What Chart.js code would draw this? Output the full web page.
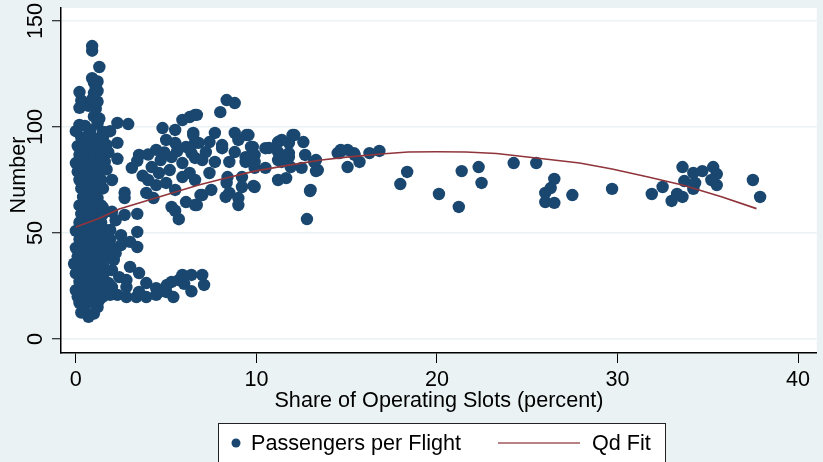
<!DOCTYPE html>
<html>
<head>
<meta charset="utf-8">
<script src="https://cdn.jsdelivr.net/npm/chart.js@4"></script>
<style>
  html, body { margin: 0; padding: 0; background: #EAF2F3; }
  canvas { display: block; }
</style>
</head>
<body>
<canvas id="chart" width="823" height="462"></canvas>
<script>
/* Passengers per flight vs. share of operating slots, with quadratic fit */
const FONT = "'Liberation Sans', Arial, sans-serif";
const NAVY = '#1A476F';
const MAROON = '#90353B';

const xTicks = [0, 10, 20, 30, 40];
const yTicks = [0, 50, 100, 150];

// carriers with a tiny slot share (dense column near zero)
const smallShare = [
    [0.7,10.5],[0.3,12.5],[1.0,12],[1.2,15],[0.5,15.5],[0.2,17],[0.9,17.5],[1.3,18.5],[0.1,20],[0.6,20],[1.5,20],[1.1,21],
    [0.0,23],[0.4,23.5],[0.8,22.5],[1.2,23],[1.6,23.5],
    [0.2,27],[0.6,26.5],[1.0,27.5],[1.4,27],[1.8,26.5],
    [0.0,31],[0.4,31.5],[0.8,30.5],[1.2,31],[1.6,31.5],
    [-0.1,35.5],[0.3,35],[0.7,34.5],[1.1,35],[1.5,35.5],
    [0.1,39],[0.5,39.5],[0.9,38.5],[1.3,39],[1.7,39.5],
    [0.0,43],[0.4,43.5],[0.8,42.5],[1.2,43],[1.6,43.5],
    [0.2,47],[0.6,46.5],[1.0,47.5],[1.4,47],[1.8,46.5],
    [0.0,51],[0.4,51.5],[0.8,50.5],[1.2,51],[1.6,51.5],
    [0.2,55],[0.6,55.5],[1.0,54.5],[1.4,55],
    [0.3,59],[0.7,59.5],[1.1,58.5],[1.5,59],
    [0.2,63],[0.6,63.5],[1.0,62.5],[1.4,63],
    [0.4,67],[0.8,67.5],[1.2,66.5],
    [0.3,71],[0.7,71.5],[1.1,70.5],[1.5,71],
    [0.2,75],[0.6,75.5],[1.0,74.5],[1.4,75],
    [0.1,79],[0.5,79.5],[0.9,78.5],[1.3,79],
    [0.0,83],[0.4,83.5],[0.8,82.5],[1.2,83],[1.6,83.5],
    [0.2,87],[0.6,87.5],[1.0,86.5],[1.4,87],
    [0.1,91],[0.5,91.5],[0.9,90.5],[1.3,91],[1.7,91.5],
    [0.3,95],[0.7,95.5],[1.1,94.5],[1.5,95],
    [0.0,98],[0.8,98.5],[1.6,97.5],[1.9,98],
    [0.2,101],[0.5,100.5],[1.2,101.5],
    [1.0,105],[1.3,104],
    [0.2,109],[0.7,110],[1.1,108.5],
    [0.3,112.5],[0.9,113],[1.2,112],
    [0.2,116.5],[1.0,116],[1.2,117],
    [1.1,118.5],[1.0,121],[1.2,121.5],[0.9,123],
    [1.3,128.3],[0.9,136],[0.9,138.2]
];

// low-load band to the right of the column
const lowBand = [
    [1.9,51.4],[2.0,43],[2.5,49],[2.5,44.3],[3.0,45.8],[3.4,50.5],[3.4,43.4],[2.1,37.3],[2.0,32.5],[2.4,29.2],
    [2.8,27.8],[3.0,34],[3.5,31.1],[3.9,26.4],[2.0,24.5],[2.8,24.5],[2.3,20.8],[1.9,20.8],[2.8,19.8],[3.35,19.8],
    [3.5,22.2],[3.9,19.8],[4.45,20.8],[4.45,24],[4.6,22.2],[5.0,22.2],[5.05,25.5],[5.3,26.9],[5.4,19.8],[5.7,27.8],
    [5.9,30.2],[6.4,30.2],[7.0,30.2],[7.1,25.5],[6.4,22.5],[6.0,26],[2.2,40.5],[1.9,47]
];

// mid-sized carriers
const midShare = [
    [2.3,101.9],[2.9,101.4],[2.3,92.5],[2.3,85],[1.5,97.6],[1.8,88],[1.7,80],[2.0,75],[1.5,62],[2.7,69],
    [2.7,66.5],[2.7,58.5],[3.4,59],[3.5,86.8],[3.1,80.7],[3.7,77],[2.0,60],[2.2,56],
    [4.2,81.1],[4.45,89.2],[4.8,99.5],[5.0,93.9],[5.5,98.6],[5.9,103.3],[6.3,104.7],[6.7,105.7],[6.5,97.2],[5.5,92.5],
    [6.1,90.6],[6.8,92.5],[4.7,84.4],[5.3,85.8],[5.9,83],[6.6,85.4],[4.6,78.3],[5.2,79.7],[5.9,76.4],[6.6,75],
    [4.45,72.6],[5.0,73.6],[3.9,68.9],[4.3,66.5],[5.5,70.3],[6.1,64.6],[5.3,62.3],[6.7,63.2],[7.0,67.9],[5.5,60.5],
    [5.7,56.5],[3.4,84],[4.0,87],[4.9,88],[5.6,88.5],[4.0,75],
    [6.5,96.2],[7.7,97.2],[8.8,97.2],[9.45,96.2],[9.0,93.9],[8.1,91.5],[9.7,90.6],[10.7,90.1],[11.2,92.9],[12.0,96.2],
    [12.6,92.9],[11.8,92.5],[8.8,88.2],[9.4,85.8],[9.9,86.8],[10.5,90],[11.2,88.2],[11.8,85.8],[12.7,86.8],[13.3,84.4],
    [13.4,79.7],[12.5,80.7],[11.9,81.1],[11.2,84.4],[10.5,80.7],[9.9,80.7],[9.4,83.5],[8.5,83.5],[7.7,83.5],[7.0,84.4],
    [6.4,87.7],[7.2,88.2],[8.1,90],[7.4,92.9],[6.6,92.5],[6.3,78.3],[7.4,78.3],[8.4,76.4],[9.2,76.4],[9.9,71.7],
    [9.2,71.7],[11.2,75],[11.65,75.9],[13.0,70.3],[8.35,73.6],[8.5,68.9],[7.5,70.3],[6.9,67.9],[9.0,66.5],[6.6,63.2],
    [9.0,63.2],[8.3,67],[8.35,112.7],[8.8,111.3],[8.0,107],[6.6,105.7],
    [9.56,96.2],[9.8,90.6],[11.4,93.9],[12.1,96.2],[11.8,87.7],[13.2,83.5],[13.3,79.2],[11.4,83.5],[9.9,83.5],
    [12.8,56.6],[12.97,69.8],[9.84,72.2]
];

// carriers with a large slot share
const largeShare = [
    [14.5,87.7],[14.6,87.7],[15.05,89.2],[15.4,87.7],[14.67,89.2],[15.44,86.8],[15.05,81.1],[15.71,83.5],[16.26,87.7],[16.81,88.7],
    [17.97,73.1],[18.35,78.8],[20.11,68.4],[21.21,62.3],[21.37,79.2],[22.31,81.1],[22.47,73.6],[24.25,83],[25.5,83],[26.5,75.5],
    [26.0,68.9],[26.3,71.2],[26.0,64.6],[26.5,64.2],[27.5,67.9],[29.7,70.8],[31.9,68.4],[32.5,71.7],[33.0,65.1],[33.3,68.4],
    [33.6,81.1],[33.6,67.0],[33.7,74.5],[34.2,78.3],[34.3,73.6],[34.2,70.8],[34.7,79.2],[35.3,81.1],[35.5,77.8],[35.2,75.0],
    [35.5,72.6],[37.5,75.0],[37.9,67.0]
];

// quadratic fit
const fitX = [0, 1.3, 2.4, 4.6, 6.8, 8.1, 9.9, 11.8, 13.6, 15.0, 16.9, 18.4, 20.0, 21.6, 23.3, 25.5, 27.9, 29.7, 31.7, 33.6, 35.8, 37.7];
const fitY = [52.8, 57, 61.3, 67, 72.6, 75.5, 79.2, 82, 84.4, 85.8, 87.3, 88.2, 88.3, 88.2, 87.5, 85.4, 83, 80.2, 76.4, 72.6, 67, 61.5];

const points = [...smallShare, ...lowBand, ...midShare, ...largeShare].map(p => ({ x: p[0], y: p[1] }));
const fitPoints = fitX.map((x, i) => ({ x, y: fitY[i] }));

const stataLook = {
    id: 'stataLook',
    beforeDraw(chart) {
        const { ctx, chartArea: a } = chart;
        ctx.save();
        ctx.fillStyle = '#EAF2F3';
        ctx.fillRect(0, 0, chart.width, chart.height);
        ctx.fillStyle = '#fff';
        ctx.fillRect(a.left, a.top, a.right - a.left, a.bottom - a.top);
        ctx.restore();
    },
    afterDraw(chart) {
        const { ctx, chartArea: a, scales: { x, y } } = chart;
        ctx.save();
        ctx.fillStyle = '#000';
        ctx.font = '21.6px ' + FONT;
        ctx.textBaseline = 'middle';

        // x tick labels + title
        ctx.textAlign = 'center';
        xTicks.forEach(v => ctx.fillText(String(v), x.getPixelForValue(v), 380));
        ctx.fillText('Share of Operating Slots (percent)', (a.left + a.right) / 2, 401);

        // y tick labels + title, rotated
        yTicks.forEach(v => {
            ctx.save();
            ctx.translate(36, y.getPixelForValue(v));
            ctx.rotate(-Math.PI / 2);
            ctx.fillText(String(v), 0, 0);
            ctx.restore();
        });
        ctx.save();
        ctx.translate(19, 175);
        ctx.rotate(-Math.PI / 2);
        ctx.fillText('Number', 0, 0);
        ctx.restore();

        // legend box
        ctx.fillStyle = '#fff';
        ctx.fillRect(218, 423, 447, 50);
        ctx.strokeStyle = '#222';
        ctx.lineWidth = 1;
        ctx.strokeRect(218.5, 423.5, 447, 50);
        ctx.fillStyle = NAVY;
        ctx.beginPath();
        ctx.arc(236, 443, 4.5, 0, Math.PI * 2);
        ctx.fill();
        ctx.strokeStyle = '#A0585C';
        ctx.lineWidth = 1.6;
        ctx.beginPath();
        ctx.moveTo(498, 443);
        ctx.lineTo(580, 443);
        ctx.stroke();
        ctx.fillStyle = '#000';
        ctx.textAlign = 'left';
        ctx.fillText(chart.data.datasets[1].label, 251, 444);
        ctx.fillText(chart.data.datasets[0].label, 592, 444);
        ctx.restore();
    }
};

new Chart(document.getElementById('chart'), {
    type: 'scatter',
    data: {
        datasets: [
            { label: 'Qd Fit', type: 'line', data: fitPoints, borderColor: MAROON, borderWidth: 1.6,
              pointRadius: 0, tension: 0, fill: false, order: 0 },
            { label: 'Passengers per Flight', data: points, backgroundColor: NAVY, borderWidth: 0,
              pointRadius: 6.2, order: 1 }
        ]
    },
    options: {
        responsive: false,
        animation: false,
        layout: { padding: { top: 8, left: 0, right: 0, bottom: 0 } },
        plugins: { legend: { display: false }, tooltip: { enabled: false } },
        scales: {
            x: {
                type: 'linear', min: -0.824, max: 41.04,
                afterBuildTicks: s => { s.ticks = xTicks.map(v => ({ value: v })); },
                afterFit: s => { s.height = 109; },
                grid: { drawOnChartArea: false, tickLength: 10, tickColor: '#000', tickWidth: 1 },
                border: { color: '#000', width: 1.5 },
                ticks: { display: false }
            },
            y: {
                min: -6.6, max: 156.13,
                afterBuildTicks: s => { s.ticks = yTicks.map(v => ({ value: v })); },
                afterFit: s => { s.width = 61; },
                grid: { color: '#EAF2F3', lineWidth: 1.5, tickLength: 9, tickColor: '#000', tickWidth: 1 },
                border: { color: '#000', width: 1.5 },
                ticks: { display: false }
            }
        }
    },
    plugins: [stataLook]
});
</script>
</body>
</html>
